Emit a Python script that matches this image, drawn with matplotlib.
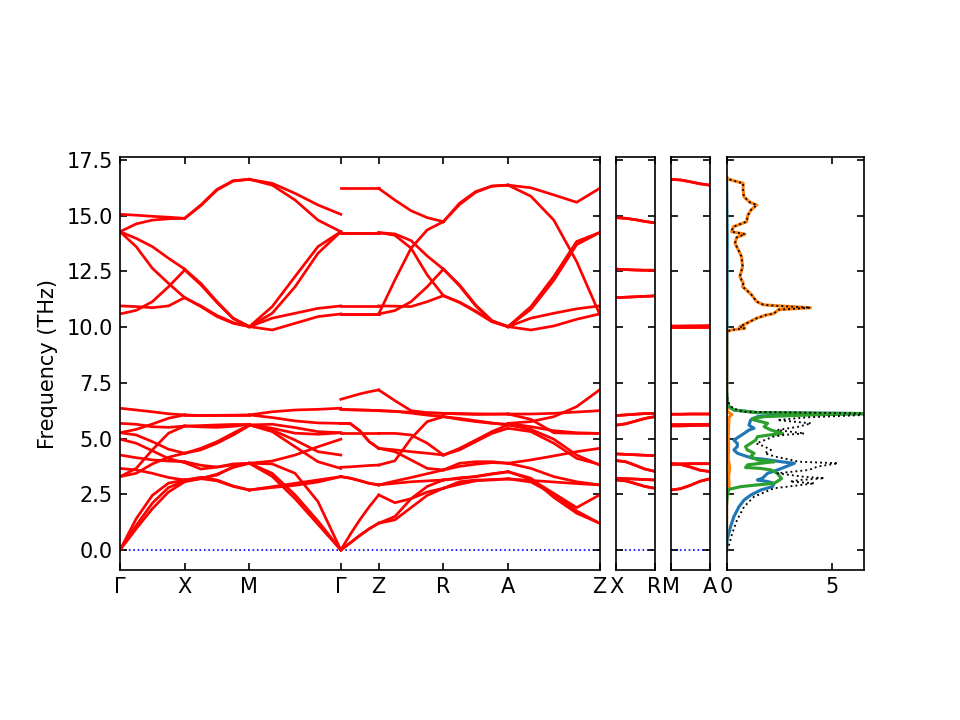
import matplotlib.pyplot as plt
import numpy as np

# k-path (distance in units of Gamma-X)
path_x = [0.0, 1.0, 2.0, 3.414, 4.0, 5.0, 6.0, 7.414]
path_labels = ['Γ', 'X', 'M', 'Γ', 'Z', 'R', 'A', 'Z']
cz = 0.586  # length of X-R and M-A

# band frequencies (THz) read at 0, 1/4, 1/2, 3/4, 1 of each segment
g_x = [
    [15.06, 15.02, 14.97, 14.93, 14.88],
    [14.28, 14.63, 14.80, 14.86, 14.88],
    [14.28, 13.98, 13.61, 13.09, 12.60],
    [14.28, 13.61, 12.64, 11.96, 11.32],
    [10.95, 10.92, 10.87, 10.95, 11.32],
    [10.59, 10.75, 11.14, 11.81, 12.56],
    [6.36, 6.28, 6.20, 6.11, 6.06],
    [5.26, 5.41, 5.65, 5.91, 6.06],
    [5.68, 5.64, 5.53, 5.50, 5.56],
    [3.29, 3.66, 4.49, 5.24, 5.56],
    [5.26, 5.16, 4.86, 4.52, 4.34],
    [4.97, 4.79, 4.45, 4.10, 3.92],
    [4.26, 4.14, 4.04, 3.99, 3.96],
    [3.29, 3.44, 3.86, 4.16, 4.34],
    [3.66, 3.59, 3.44, 3.25, 3.14],
    [0.00, 1.40, 2.45, 3.00, 3.14],
    [0.00, 1.10, 2.10, 2.80, 3.10],
    [0.00, 0.95, 1.85, 2.60, 3.06],
]
x_m = [
    [14.88, 15.48, 16.18, 16.57, 16.63],
    [14.88, 15.45, 16.15, 16.55, 16.63],
    [12.60, 11.96, 11.14, 10.40, 10.02],
    [12.56, 11.90, 11.10, 10.38, 10.02],
    [11.32, 10.92, 10.47, 10.17, 10.02],
    [11.32, 10.95, 10.52, 10.20, 10.02],
    [6.06, 6.06, 6.06, 6.06, 6.06],
    [6.06, 6.03, 6.04, 6.05, 6.06],
    [5.56, 5.58, 5.61, 5.63, 5.63],
    [5.56, 5.52, 5.50, 5.55, 5.63],
    [4.34, 4.56, 4.86, 5.24, 5.61],
    [4.34, 4.49, 4.79, 5.16, 5.58],
    [3.92, 3.63, 3.72, 3.86, 3.89],
    [3.96, 3.80, 3.72, 3.82, 3.89],
    [3.14, 3.22, 3.36, 3.74, 3.89],
    [3.10, 3.20, 3.40, 3.70, 3.89],
    [3.14, 3.26, 3.14, 2.87, 2.69],
    [3.06, 3.20, 3.10, 2.85, 2.69],
]
m_g = [
    [16.63, 16.45, 16.00, 15.48, 15.06],
    [16.63, 16.37, 15.70, 14.80, 14.28],
    [10.02, 10.92, 12.27, 13.61, 14.28],
    [10.02, 10.62, 11.81, 13.31, 14.28],
    [10.02, 10.40, 10.62, 10.84, 10.95],
    [10.02, 9.87, 10.17, 10.47, 10.59],
    [6.06, 6.20, 6.28, 6.31, 6.36],
    [6.06, 5.94, 5.79, 5.70, 5.68],
    [5.61, 5.64, 5.49, 5.31, 5.26],
    [5.61, 5.46, 5.24, 5.19, 5.26],
    [5.61, 5.38, 4.93, 4.41, 4.26],
    [5.61, 5.31, 4.63, 3.96, 3.66],
    [3.89, 3.99, 4.26, 4.63, 4.97],
    [2.69, 2.84, 2.99, 3.14, 3.29],
    [2.69, 2.80, 2.90, 3.05, 3.29],
    [3.89, 3.86, 3.44, 2.17, 0.00],
    [3.89, 3.44, 2.47, 1.30, 0.00],
    [3.89, 3.30, 2.30, 1.15, 0.00],
]
g_z = [
    [16.22, 16.22, 16.22, 16.22, 16.22],
    [14.24, 14.24, 14.24, 14.24, 14.24],
    [14.24, 14.24, 14.24, 14.24, 14.24],
    [10.95, 10.95, 10.95, 10.95, 10.95],
    [10.59, 10.59, 10.59, 10.59, 10.59],
    [10.59, 10.59, 10.59, 10.59, 10.59],
    [6.76, 6.88, 7.00, 7.10, 7.18],
    [6.31, 6.29, 6.28, 6.27, 6.25],
    [6.31, 6.29, 6.28, 6.27, 6.25],
    [5.68, 5.67, 5.35, 4.86, 4.56],
    [5.68, 5.67, 5.35, 4.86, 4.56],
    [5.23, 5.23, 5.23, 5.23, 5.23],
    [3.71, 3.73, 3.76, 3.79, 3.81],
    [3.29, 3.22, 3.11, 2.99, 2.92],
    [3.29, 3.22, 3.11, 2.99, 2.92],
    [0.00, 0.70, 1.35, 1.94, 2.47],
    [0.00, 0.32, 0.65, 0.95, 1.20],
    [0.00, 0.32, 0.65, 0.95, 1.20],
]
z_r = [
    [16.22, 15.70, 15.22, 14.91, 14.73],
    [14.24, 14.18, 13.88, 13.19, 12.60],
    [14.24, 14.12, 13.54, 12.34, 11.41],
    [10.95, 10.94, 10.92, 11.14, 11.41],
    [10.59, 12.11, 13.54, 14.36, 14.73],
    [10.59, 10.74, 11.14, 11.81, 12.60],
    [7.18, 6.70, 6.25, 6.16, 6.13],
    [6.25, 6.22, 6.18, 6.15, 6.13],
    [6.25, 6.22, 6.14, 6.05, 5.98],
    [5.23, 5.23, 5.16, 4.79, 4.26],
    [3.81, 4.00, 5.00, 5.76, 5.98],
    [4.56, 4.49, 4.41, 4.34, 4.26],
    [4.56, 4.41, 4.04, 3.66, 3.59],
    [2.92, 3.09, 3.25, 3.42, 3.59],
    [2.92, 2.99, 3.06, 3.10, 3.14],
    [2.47, 2.12, 2.30, 2.60, 2.77],
    [1.20, 1.50, 2.30, 2.85, 3.14],
    [1.20, 1.35, 1.90, 2.45, 2.77],
]
r_a = [
    [14.73, 15.56, 16.08, 16.33, 16.37],
    [14.73, 15.50, 16.05, 16.32, 16.37],
    [12.60, 11.89, 10.99, 10.29, 10.02],
    [12.60, 11.85, 10.95, 10.27, 10.02],
    [11.41, 11.10, 10.69, 10.24, 10.02],
    [11.41, 11.12, 10.72, 10.26, 10.02],
    [6.13, 6.12, 6.11, 6.10, 6.10],
    [6.13, 6.10, 6.08, 6.09, 6.10],
    [5.98, 5.86, 5.76, 5.68, 5.64],
    [5.98, 5.90, 5.80, 5.70, 5.60],
    [4.26, 4.56, 4.93, 5.31, 5.61],
    [4.26, 4.49, 4.86, 5.23, 5.46],
    [3.59, 3.89, 3.96, 3.96, 3.89],
    [3.59, 3.75, 3.85, 3.92, 3.89],
    [3.14, 3.24, 3.29, 3.40, 3.51],
    [3.14, 3.20, 3.30, 3.42, 3.51],
    [2.77, 3.06, 3.14, 3.14, 3.19],
    [2.77, 2.95, 3.10, 3.16, 3.19],
]
a_z = [
    [16.37, 16.25, 15.93, 15.60, 16.22],
    [16.37, 15.87, 14.80, 12.94, 10.59],
    [10.02, 10.92, 12.27, 13.84, 14.24],
    [10.02, 10.80, 12.10, 13.70, 14.24],
    [10.02, 10.40, 10.62, 10.82, 10.95],
    [10.02, 9.87, 10.05, 10.35, 10.59],
    [6.10, 6.10, 6.13, 6.19, 6.25],
    [5.68, 5.76, 5.98, 6.43, 7.18],
    [6.10, 5.86, 5.26, 5.23, 5.23],
    [5.68, 5.53, 5.35, 5.26, 5.23],
    [5.46, 5.31, 4.79, 4.11, 3.84],
    [5.61, 5.41, 4.97, 4.26, 3.81],
    [3.89, 4.04, 4.22, 4.41, 4.56],
    [3.89, 3.66, 3.29, 3.06, 2.92],
    [3.51, 3.17, 2.54, 1.90, 2.47],
    [3.51, 3.22, 2.36, 1.65, 1.20],
    [3.19, 3.12, 3.05, 2.98, 2.92],
    [3.19, 3.05, 2.50, 1.75, 1.20],
]
x_r = [
    [14.91, 14.88, 14.82, 14.74, 14.68],
    [14.91, 14.88, 14.82, 14.74, 14.68],
    [12.60, 12.58, 12.56, 12.55, 12.55],
    [12.60, 12.58, 12.56, 12.55, 12.55],
    [11.32, 11.34, 11.36, 11.38, 11.40],
    [11.32, 11.34, 11.36, 11.38, 11.40],
    [6.03, 6.06, 6.09, 6.12, 6.13],
    [6.03, 6.06, 6.09, 6.12, 6.13],
    [5.60, 5.66, 5.78, 5.90, 5.98],
    [5.60, 5.66, 5.78, 5.90, 5.98],
    [4.31, 4.29, 4.27, 4.25, 4.23],
    [4.31, 4.29, 4.27, 4.25, 4.23],
    [4.01, 3.96, 3.80, 3.63, 3.53],
    [4.01, 3.96, 3.80, 3.63, 3.53],
    [3.22, 3.20, 3.18, 3.16, 3.14],
    [3.22, 3.20, 3.18, 3.16, 3.14],
    [3.14, 3.10, 2.98, 2.85, 2.77],
    [3.14, 3.10, 2.98, 2.85, 2.77],
]
m_a = [
    [16.63, 16.60, 16.52, 16.43, 16.37],
    [16.63, 16.60, 16.52, 16.43, 16.37],
    [10.02, 10.02, 10.02, 10.02, 10.02],
    [9.98, 9.98, 9.99, 9.99, 10.00],
    [10.05, 10.05, 10.06, 10.06, 10.07],
    [10.02, 10.03, 10.03, 10.04, 10.04],
    [6.09, 6.09, 6.10, 6.10, 6.10],
    [6.09, 6.09, 6.10, 6.10, 6.10],
    [5.60, 5.60, 5.60, 5.60, 5.60],
    [5.65, 5.65, 5.65, 5.65, 5.65],
    [5.56, 5.56, 5.58, 5.62, 5.64],
    [5.60, 5.61, 5.62, 5.62, 5.62],
    [3.86, 3.86, 3.87, 3.87, 3.87],
    [3.86, 3.86, 3.87, 3.87, 3.87],
    [3.86, 3.84, 3.72, 3.58, 3.52],
    [3.86, 3.84, 3.72, 3.58, 3.52],
    [2.69, 2.75, 2.90, 3.08, 3.19],
    [2.69, 2.75, 2.90, 3.08, 3.19],
]

# projected DOS (frequency, states)
blue_f = [0.0, 0.45, 1.05, 1.5, 1.94, 2.24, 2.46, 2.69, 2.84, 2.99, 3.07, 3.14, 3.22, 3.44,
          3.59, 3.89, 3.96, 4.07, 4.12, 4.19, 4.34, 4.49, 4.64, 4.78, 4.93, 5.08, 5.23, 5.38,
          5.46, 5.6, 5.83, 5.98, 6.08, 6.12, 6.16, 6.28, 6.43, 6.73, 7.2, 10.0, 14.0, 16.7]
blue_d = [0.0, 0.03, 0.19, 0.35, 0.59, 0.83, 1.14, 1.62, 2.17, 2.25, 1.94, 1.46, 1.7, 1.94,
          2.41, 3.21, 2.57, 1.78, 1.22, 0.98, 0.51, 0.35, 0.51, 0.51, 0.35, 0.59, 0.83, 1.06,
          1.3, 1.06, 1.14, 1.46, 3.05, 6.4, 1.46, 0.35, 0.11, 0.03, 0.01, 0.02, 0.03, 0.0]
orange_f = [0.0, 2.4, 2.6, 2.9, 3.3, 3.7, 4.1, 4.6, 5.1, 5.6, 5.95, 6.08, 6.2, 6.5, 9.8,
            9.87, 9.95, 10.02, 10.17, 10.4, 10.55, 10.6, 10.78, 10.87, 10.96, 11.0, 11.14,
            11.44, 11.66, 11.81, 11.96, 12.27, 12.71, 13.16, 13.46, 13.76, 14.02, 14.17,
            14.28, 14.5, 14.73, 15.0, 15.25, 15.48, 15.6, 15.85, 16.2, 16.45, 16.55, 16.65, 16.75]
orange_d = [0.0, 0.01, 0.08, 0.12, 0.1, 0.15, 0.08, 0.1, 0.08, 0.1, 0.12, 0.25, 0.05, 0.01, 0.01,
            0.24, 0.87, 0.63, 0.95, 1.43, 1.9, 2.22, 2.46, 3.97, 2.3, 1.75, 1.43,
            1.19, 0.95, 0.76, 0.79, 0.63, 0.76, 0.71, 0.56, 0.4, 0.48, 0.87,
            0.24, 0.32, 0.95, 1.0, 1.15, 1.43, 1.1, 0.82, 0.78, 0.79, 0.4, 0.05, 0.0]
green_f = [0.0, 2.0, 2.6, 2.72, 2.84, 2.92, 2.99, 3.2, 3.44, 3.59, 3.66, 3.7, 3.82, 3.89,
           3.96, 4.04, 4.19, 4.34, 4.49, 4.64, 4.78, 4.93, 5.08, 5.15, 5.23, 5.38, 5.53,
           5.68, 5.76, 5.83, 5.9, 5.98, 6.06, 6.12, 6.16, 6.28, 6.43, 6.73, 7.2, 16.7]
green_d = [0.0, 0.0, 0.05, 0.11, 0.67, 1.46, 2.25, 2.6, 2.4, 2.1, 1.6, 0.9, 1.0, 1.62,
           2.25, 1.46, 1.14, 1.3, 0.98, 0.9, 1.14, 1.38, 1.46, 1.94, 2.65, 2.1, 1.78,
           1.94, 1.62, 1.3, 1.22, 1.78, 4.0, 6.6, 1.46, 0.35, 0.11, 0.02, 0.0, 0.0]
total_f = [0.0, 0.15, 0.75, 1.35, 1.94, 2.39, 2.77, 2.9, 2.99, 3.07, 3.14, 3.22, 3.29, 3.44,
           3.59, 3.74, 3.89, 3.96, 4.04, 4.19, 4.34, 4.49, 4.64, 4.78, 4.93, 5.08, 5.16,
           5.23, 5.38, 5.53, 5.68, 5.83, 5.95, 6.06, 6.12, 6.2, 6.35, 6.6, 6.9]
total_d = [0.0, 0.1, 0.27, 0.5, 0.83, 1.3, 2.25, 3.4, 4.16, 3.0, 3.5, 4.63, 3.6, 2.4,
           3.9, 4.3, 5.27, 3.4, 3.05, 2.3, 1.8, 2.1, 1.8, 1.4, 1.8, 2.2, 2.7,
           3.68, 2.4, 3.4, 4.0, 2.4, 3.8, 6.6, 6.6, 0.8, 0.3, 0.1, 0.02]

ylim = (-0.9, 17.63)
yticks = np.arange(0, 17.6, 2.5)

fig = plt.figure(figsize=(6.4, 4.8), dpi=150)
ax1 = fig.add_axes([0.125, 0.2083, 0.4995, 0.5736])
ax2 = fig.add_axes([0.6417, 0.2083, 0.0401, 0.5736])
ax3 = fig.add_axes([0.6990, 0.2083, 0.0401, 0.5736])
ax4 = fig.add_axes([0.7568, 0.2083, 0.1432, 0.5736])

segments = [g_x, x_m, m_g, g_z, z_r, r_a, a_z]
for ax in (ax1, ax2, ax3):
    ax.axhline(0, color='b', ls=':', lw=0.8, zorder=1)

for i, seg in enumerate(segments):
    kx = np.linspace(path_x[i], path_x[i + 1], 5)
    for band in seg:
        ax1.plot(kx, band, color='r', lw=1.3)

for ax, seg in ((ax2, x_r), (ax3, m_a)):
    kx = np.linspace(0, cz, 5)
    for band in seg:
        ax.plot(kx, band, color='r', lw=1.3)

ax1.set_xlim(path_x[0], path_x[-1])
ax1.set_xticks(path_x)
ax1.set_xticklabels(path_labels)
ax1.set_ylabel('Frequency (THz)')

ax2.set_xlim(0, cz)
ax2.set_xticks([0, cz])
ax2.set_xticklabels(['X', 'R'])
ax3.set_xlim(0, cz)
ax3.set_xticks([0, cz])
ax3.set_xticklabels(['M', 'A'])

ax4.plot(blue_d, blue_f, color='C0', lw=1.5)
ax4.plot(orange_d, orange_f, color='C1', lw=1.5)
ax4.plot(green_d, green_f, color='C2', lw=1.5)
hi = np.array(orange_f) > 7
tot_f = np.concatenate([total_f, np.array(orange_f)[hi]])
tot_d = np.concatenate([total_d, np.array(orange_d)[hi]])
ax4.plot(tot_d, tot_f, color='k', ls=':', lw=0.9)
ax4.set_xlim(0, 6.5)
ax4.set_xticks([0, 5])

for ax in (ax1, ax2, ax3, ax4):
    ax.set_ylim(ylim)
    ax.set_yticks(yticks)
    ax.tick_params(direction='in', top=True, right=True)
for ax in (ax2, ax3, ax4):
    ax.tick_params(labelleft=False)

fig.savefig('out.png', dpi=150)
